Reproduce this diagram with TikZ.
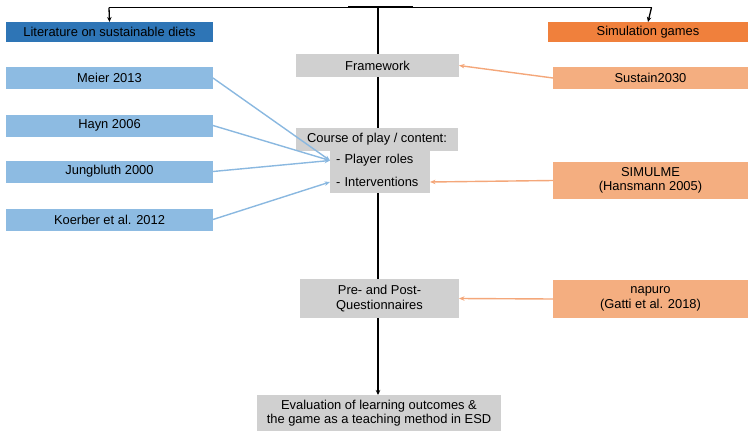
\documentclass[tikz,border=0pt]{standalone}
\usepackage{fontspec}
\setmainfont{Liberation Sans}
\usetikzlibrary{arrows.meta,backgrounds}
\definecolor{dblue}{HTML}{2E75B6}
\definecolor{lblue}{HTML}{8DBBE2}
\definecolor{dorange}{HTML}{F0803C}
\definecolor{lorange}{HTML}{F4AE80}
\definecolor{gbox}{HTML}{D0D0D0}
\definecolor{barrow}{HTML}{8AB8E0}
\definecolor{oarrow}{HTML}{F4A77A}
\begin{document}
\begin{tikzpicture}[x=1pt,y=-1pt,
  box/.style={inner sep=0pt,outer sep=0pt,align=center,text=black,
    font=\fontsize{12.9}{14.5}\selectfont},
  hdrL/.style={box,fill=dblue,minimum width=207pt,minimum height=20pt},
  hdrR/.style={box,fill=dorange,minimum width=200pt,minimum height=20pt},
  litbox/.style={box,fill=lblue,minimum width=207pt,minimum height=22pt},
  simbox/.style={box,fill=lorange,minimum width=195pt},
  graybox/.style={box,fill=gbox},
  subbox/.style={box,fill=gbox,inner xsep=6pt,minimum width=100pt,text width=88pt,align=left},
  blk/.style={black,line width=1.3pt},
  blkarrow/.style={blk,-{Stealth[length=5pt,width=4.5pt]}},
  barr/.style={barrow,line width=1.4pt,-{Stealth[length=5.5pt,width=4.5pt]}},
  oarr/.style={oarrow,line width=1.4pt,-{Stealth[length=5.5pt,width=4.5pt]}}]
\useasboundingbox (0,0) rectangle (748,431);

\node[hdrL] (lit) at (109.5,32) {Literature on sustainable diets};
\node[hdrR] (sim) at (648,32) {Simulation games};

\node[litbox] (meier) at (109.5,78) {Meier 2013};
\node[litbox] (hayn) at (109.5,125.5) {Hayn 2006};
\node[litbox] (jung) at (109.5,171.5) {Jungbluth 2000};
\node[litbox] (koer) at (109.5,219.5) {Koerber et al. 2012};

\node[simbox,minimum height=22pt] (sus) at (650.5,78) {Sustain2030};
\node[simbox,minimum height=37pt] (simul) at (650.5,180.5) {SIMULME\\(Hansmann 2005)};
\node[simbox,minimum height=38pt] (napuro) at (650.5,299) {napuro\\(Gatti et al. 2018)};

\node[graybox,minimum width=163pt,minimum height=23pt] (frame) at (377.5,65.5) {Framework};
\node[graybox,minimum width=162pt,minimum height=23pt] (course) at (377,139.5) {Course of play / content:};
\node[subbox,minimum height=21pt] (roles) at (380,160.5) {- Player roles};
\node[subbox,minimum height=22pt] (interv) at (380,182) {- Interventions};
\node[graybox,minimum width=159pt,minimum height=39pt] (pre) at (379.5,298.5) {Pre- and Post-\\Questionnaires};
\node[graybox,minimum width=244pt,minimum height=36pt] (eval) at (379,413) {Evaluation of learning outcomes \&\\the game as a teaching method in ESD};

\coordinate (top) at (378,7.5);
\coordinate (topL) at (109,7.5);
\coordinate (topR) at (651.5,7.5);
\coordinate (tkA) at (348,6.5);
\coordinate (tkB) at (413,6.5);

\begin{scope}[on background layer]
  \draw[blkarrow] (top) -- (top |- eval.north);
\end{scope}
\draw[blk] (topL) -- (topR);
\draw[blk] (tkA) -- (tkB);
\draw[blkarrow] (topL) -- (lit.north);
\draw[blkarrow] (topR) -- (sim.north);

\draw[barr] (meier.east) -- (roles.west);
\draw[barr] (hayn.east) -- (roles.west);
\draw[barr] (jung.east) -- (roles.west);
\draw[barr] (koer.east) -- (interv.west);

\draw[oarr] (sus.west) -- (frame.east);
\draw[oarr] (simul.west) -- (interv.east);
\draw[oarr] (napuro.west) -- (pre.east);
\end{tikzpicture}
\end{document}
